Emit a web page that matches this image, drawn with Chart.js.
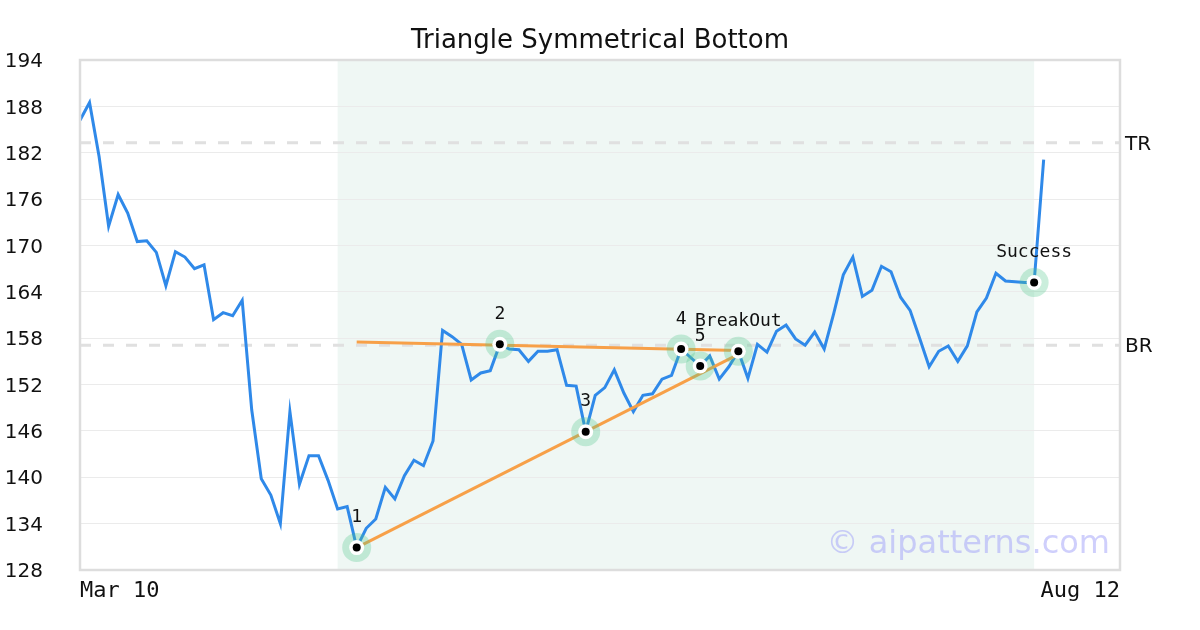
<!DOCTYPE html>
<html><head><meta charset="utf-8">
<script src="https://cdn.jsdelivr.net/npm/chart.js@4.4.0/dist/chart.umd.min.js"></script>
<style>html,body{margin:0;padding:0;background:#fff}#wrap{width:1200px;height:630px}</style>
</head><body><div id="wrap"><canvas id="c" width="1200" height="630"></canvas></div>
<script>
const chartTitle = 'Triangle Symmetrical Bottom';
const prices = [
  186.2, 188.5, 181.5, 172.5, 176.6, 174.2, 170.5, 170.6, 169.1, 164.8,
  169.2, 168.5, 167.0, 167.5, 160.4, 161.3, 160.9, 162.9, 148.7, 139.8,
  137.7, 134.0, 148.5, 139.1, 142.8, 142.8, 139.6, 135.9, 136.2, 130.9,
  133.4, 134.6, 138.7, 137.2, 140.2, 142.2, 141.5, 144.7, 159.0, 158.2,
  157.2, 152.6, 153.5, 153.8, 157.2, 156.6, 156.5, 155.0, 156.3, 156.3,
  156.5, 151.9, 151.8, 145.9, 150.6, 151.6, 153.9, 150.9, 148.5, 150.6,
  150.8, 152.7, 153.2, 156.6, 155.5, 154.4, 155.7, 152.7, 154.3, 156.3,
  152.8, 157.2, 156.2, 158.9, 159.7, 157.9, 157.1, 158.8, 156.6, 161.2,
  166.2, 168.5, 163.4, 164.2, 167.3, 166.6, 163.3, 161.6, 158.0, 154.3,
  156.3, 157.0, 155.0, 157.0, 161.4, 163.2, 166.4, 165.4, 165.3, 165.2,
  165.2, 181.1
];
const xTickLabels = ['Mar 10', 'Aug 12'];
const xTickPositions = [0, 109];
const yMin = 128, yMax = 194, yStep = 6;
const markerIdx = [29, 44, 53, 63, 65, 69, 100];
const markerLabels = ['1', '2', '3', '4', '5', 'BreakOut', 'Success'];
const upperTrendX = [29, 69];
const upperTrendY = [157.5, 156.4];
const lowerTrendX = [29, 69];
const lowerTrendY = [130.9, 155.9];
const shadeStart = 27, shadeEnd = 100;
const levelNames = ['TR', 'BR'];
const levelValues = [183.3, 157.1];
const watermark = '\u00A9 aipatterns.com';

const pricePts = prices.map((v, i) => ({x: i, y: v}));
const markerPts = markerIdx.map(i => ({x: i, y: prices[i]}));
const upperPts = upperTrendX.map((x, i) => ({x, y: upperTrendY[i]}));
const lowerPts = lowerTrendX.map((x, i) => ({x, y: lowerTrendY[i]}));

const decor = {
  id: 'decor',
  beforeDraw(chart) {
    const {ctx, chartArea: a, scales: {x}} = chart;
    ctx.save();
    ctx.fillStyle = '#ffffff';
    ctx.fillRect(0, 0, chart.width, chart.height);
    const x0 = x.getPixelForValue(shadeStart), x1 = x.getPixelForValue(shadeEnd);
    ctx.fillStyle = '#eff7f4';
    ctx.fillRect(x0, a.top, x1 - x0, a.bottom - a.top);
    ctx.restore();
  },
  beforeDatasetsDraw(chart) {
    const {ctx, chartArea: a, scales: {y}} = chart;
    ctx.save();
    ctx.strokeStyle = '#e0e0e0';
    ctx.lineWidth = 3;
    ctx.setLineDash([11, 12]);
    ctx.font = '20px "DejaVu Sans"';
    ctx.fillStyle = '#111';
    ctx.textAlign = 'left';
    ctx.textBaseline = 'middle';
    levelValues.forEach((v, i) => {
      const py = y.getPixelForValue(v);
      ctx.beginPath();
      ctx.moveTo(a.left, py);
      ctx.lineTo(a.right, py);
      ctx.stroke();
      ctx.fillText(levelNames[i], a.right + 5, py + 2);
    });
    ctx.restore();
  },
  afterDraw(chart) {
    const {ctx, chartArea: a, scales: {x, y}} = chart;
    ctx.save();
    ctx.strokeStyle = '#dddddd';
    ctx.lineWidth = 2.5;
    ctx.strokeRect(a.left, a.top, a.right - a.left, a.bottom - a.top);
    ctx.fillStyle = '#111';
    ctx.textAlign = 'center';
    ctx.textBaseline = 'middle';
    ctx.font = '26px "DejaVu Sans"';
    ctx.fillText(chartTitle, chart.width / 2, 41);
    ctx.font = '18px "DejaVu Sans Mono"';
    markerIdx.forEach((idx, i) => {
      const px = x.getPixelForValue(idx), py = y.getPixelForValue(prices[idx]);
      ctx.fillText(markerLabels[i], px, py - 30);
    });
    ctx.font = '32px "DejaVu Sans"';
    ctx.fillStyle = 'rgba(160,160,250,0.5)';
    ctx.textAlign = 'right';
    ctx.textBaseline = 'alphabetic';
    ctx.fillText(watermark, a.right - 10, a.bottom - 17);
    ctx.restore();
  }
};

new Chart(document.getElementById('c'), {
  type: 'line',
  data: {
    datasets: [
      {data: markerPts, showLine: false, pointRadius: 4, pointBackgroundColor: '#000', pointBorderWidth: 0, pointHoverRadius: 4},
      {data: markerPts, showLine: false, pointRadius: 7.5, pointBackgroundColor: '#fff', pointBorderWidth: 0, pointHoverRadius: 7.5},
      {data: markerPts, showLine: false, pointRadius: 14.5, pointBackgroundColor: 'rgba(80,200,140,0.3)', pointBorderWidth: 0, pointHoverRadius: 14.5},
      {data: upperPts, borderColor: '#f7a048', borderWidth: 3, pointRadius: 0, tension: 0},
      {data: lowerPts, borderColor: '#f7a048', borderWidth: 3, pointRadius: 0, tension: 0},
      {data: pricePts, borderColor: '#2f89e9', borderWidth: 3, pointRadius: 0, tension: 0}
    ]
  },
  options: {
    responsive: false,
    animation: false,
    devicePixelRatio: 1,
    layout: {padding: {left: 0, right: 80, top: 60, bottom: 0}},
    plugins: {
      legend: {display: false},
      tooltip: {enabled: false},
      title: {display: false}
    },
    scales: {
      x: {
        type: 'linear', min: xTickPositions[0], max: xTickPositions[1],
        grid: {display: false, drawTicks: false},
        border: {display: false},
        afterBuildTicks(s) { s.ticks = xTickPositions.map(v => ({value: v})); },
        afterFit(s) { s.height = 60; },
        ticks: {
          autoSkip: false, maxRotation: 0, align: 'inner', padding: 8, color: '#111',
          font: {family: 'DejaVu Sans Mono', size: 22},
          callback(v) { const k = xTickPositions.indexOf(v); return k >= 0 ? xTickLabels[k] : ''; }
        }
      },
      y: {
        min: yMin, max: yMax,
        grid: {color: '#ebebeb', lineWidth: 1, drawTicks: false},
        border: {display: false},
        afterFit(s) { s.width = 80; },
        ticks: {stepSize: yStep, padding: 37, labelOffset: 2, color: '#111', font: {family: 'DejaVu Sans', size: 20}}
      }
    }
  },
  plugins: [decor]
});
</script></body></html>
